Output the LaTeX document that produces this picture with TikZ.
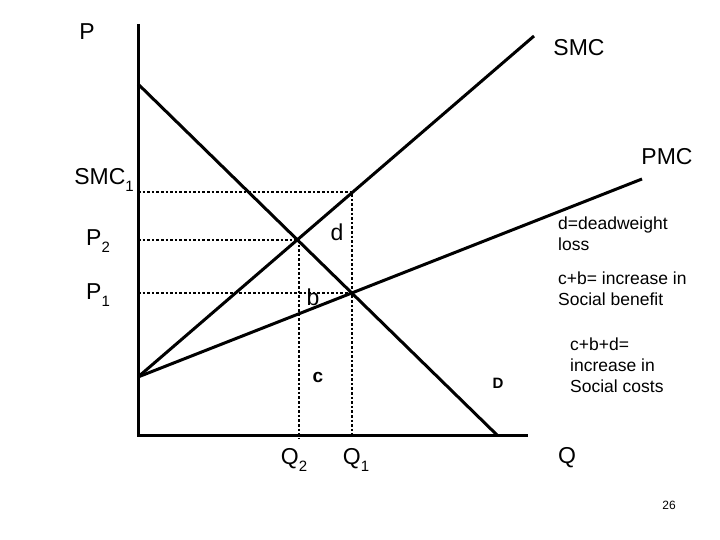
\documentclass[tikz,border=0pt]{standalone}
\usepackage{fontspec}
\setmainfont{Liberation Sans}
\newcommand{\lowsub}[1]{\raisebox{-0.3em}{\fontsize{15}{15}\selectfont #1}}
\begin{document}
\begin{tikzpicture}[x=1pt,y=-1pt,
  curve/.style={line width=3pt},
  guide/.style={line width=2.6pt,dotted,line cap=butt},
  big/.style={font=\fontsize{23}{25}\selectfont,inner sep=0pt},
  note/.style={font=\fontsize{17.5}{21}\selectfont,align=left,inner sep=0pt,anchor=north west},
  small/.style={font=\fontsize{12}{14}\selectfont,inner sep=0pt}]
\useasboundingbox (0,0) rectangle (720,540);
% key points
\coordinate (O) at (138,435);
\coordinate (ytop) at (138,24);
\coordinate (xend) at (528,435);
\coordinate (Dtop) at (138,84);
\coordinate (Dend) at (497,435);
\coordinate (S0) at (138,377);
\coordinate (SMCend) at (534,36);
\coordinate (PMCend) at (642,179);
\coordinate (E2) at (299,240);
\coordinate (E1) at (352,293);
\coordinate (F) at (352,192);
\coordinate (yS) at (138,192);
\coordinate (yP2) at (138,240);
\coordinate (yP1) at (138,293);
\coordinate (q2) at (299,439);
\coordinate (q1) at (352,435);
% dotted guides
\draw[guide] (yS) -- (F) -- (q1);
\draw[guide] (yP2) -- (E2) -- (q2);
\draw[guide] (yP1) -- (E1);
% axes and curves
\draw[curve] (ytop) -- (O) -- (xend);
\draw[curve] (Dtop) -- (Dend);
\draw[curve] (S0) -- (SMCend);
\draw[curve] (S0) -- (PMCend);
% labels
\node[big] (lP) at (87,32) {P};
\node[big] (lSMC) at (579,48) {SMC};
\node[big] (lPMC) at (667,157) {PMC};
\node[big] (lSMC1) at (104,180) {SMC\lowsub{1}};
\node[big] (lP2) at (98,241) {P\lowsub{2}};
\node[big] (lP1) at (98,295) {P\lowsub{1}};
\node[big] (ld) at (337,232) {d};
\node[big] (lb) at (313,297) {b};
\node[big,font=\fontsize{19}{21}\selectfont\bfseries] (lc) at (318,377) {c};
\node[big,font=\fontsize{15}{17}\selectfont\bfseries] (lD) at (498,383) {D};
\node[big] (lQ2) at (294,460) {Q\lowsub{2}};
\node[big] (lQ1) at (356,460) {Q\lowsub{1}};
\node[big] (lQ) at (567,458) {Q};
\node[note] (n1) at (558,217) {d=deadweight\\loss};
\node[note] (n2) at (558,272) {c+b= increase in\\Social benefit};
\node[note] (n3) at (570,338) {c+b+d=\\increase in\\Social costs};
\node[small] (pg) at (669,505) {26};
\end{tikzpicture}
\end{document}
